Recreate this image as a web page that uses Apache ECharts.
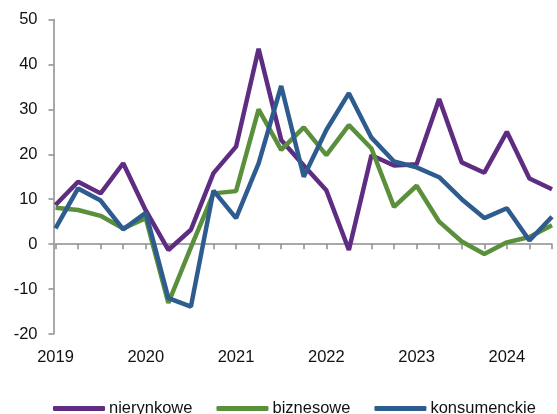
<!DOCTYPE html>
<html>
<head>
<meta charset="utf-8">
<script src="https://cdn.jsdelivr.net/npm/echarts@6/dist/echarts.min.js"></script>
<style>
html,body{margin:0;padding:0;background:#fff;}
#chart{width:557px;height:414px;}
</style>
</head>
<body>
<div id="chart"></div>
<script>
// Quarterly categories 2019Q1 .. 2024Q3
const categories = [
  '2019','2019 Q2','2019 Q3','2019 Q4',
  '2020','2020 Q2','2020 Q3','2020 Q4',
  '2021','2021 Q2','2021 Q3','2021 Q4',
  '2022','2022 Q2','2022 Q3','2022 Q4',
  '2023','2023 Q2','2023 Q3','2023 Q4',
  '2024','2024 Q2','2024 Q3'
];
const nierynkowe = [8.7, 13.9, 11.3, 18.0, 7.5, -1.3, 3.2, 15.8, 21.7, 43.5, 23.2, 17.5, 12.0, -1.3, 19.8, 17.5, 17.8, 32.3, 18.2, 15.9, 25.0, 14.6, 12.2];
const biznesowe = [8.1, 7.6, 6.3, 3.5, 5.8, -13.1, -0.7, 11.3, 11.8, 30.0, 21.0, 26.0, 19.8, 26.5, 21.3, 8.3, 13.0, 5.0, 0.6, -2.2, 0.4, 1.6, 4.2];
const konsumenckie = [3.5, 12.4, 9.7, 3.3, 7.0, -12.0, -13.9, 11.9, 5.8, 18.0, 35.2, 15.0, 25.4, 33.6, 23.7, 18.4, 17.1, 14.9, 10.0, 5.8, 8.0, 0.8, 6.1];
const yTicks = {min: -20, max: 50, interval: 10};

const FONT = '"Liberation Sans", Arial, sans-serif';
const AXIS = '#8c8c8c';
const chart = echarts.init(document.getElementById('chart'), null, {renderer: 'canvas'});
chart.setOption({
  animation: false,
  backgroundColor: '#fff',
  grid: {left: 55.5, right: 5, top: 19.5, bottom: 80, containLabel: false},
  legend: {
    left: 48, top: 395,
    itemWidth: 52, itemHeight: 5, itemGap: 24,
    icon: 'roundRect',
    textStyle: {fontFamily: FONT, fontSize: 16.5, color: '#111', padding: [0,0,0,-1]},
    data: ['nierynkowe', 'biznesowe', 'konsumenckie']
  },
  xAxis: [
    {
      type: 'category', data: categories, boundaryGap: false,
      axisLine: {onZero: true, lineStyle: {color: AXIS, width: 1.5}},
      axisTick: {show: true, interval: 0, length: 5, lineStyle: {color: AXIS, width: 1.5}},
      axisLabel: {show: false},
      splitLine: {show: false}
    },
    {
      type: 'category', data: categories, boundaryGap: false, position: 'bottom',
      axisLine: {show: false, onZero: false},
      axisTick: {show: false},
      axisLabel: {
        interval: 3, margin: 15,
        fontFamily: FONT, fontSize: 16.5, color: '#111',
        formatter: v => v.length === 4 ? v : ''
      },
      splitLine: {show: false}
    }
  ],
  yAxis: {
    type: 'value', min: yTicks.min, max: yTicks.max, interval: yTicks.interval,
    offset: 2,
    axisLine: {show: true, lineStyle: {color: AXIS, width: 1.5}},
    axisTick: {show: true, length: 5, lineStyle: {color: AXIS, width: 1.5}},
    axisLabel: {margin: 16, fontFamily: FONT, fontSize: 16.5, color: '#111'},
    splitLine: {show: false}
  },
  series: [
    {name: 'nierynkowe', type: 'line', data: nierynkowe, symbol: 'none', xAxisIndex: 0,
     lineStyle: {color: '#5e2d82', width: 4.5}, itemStyle: {color: '#5e2d82'}, z: 3},
    {name: 'biznesowe', type: 'line', data: biznesowe, symbol: 'none', xAxisIndex: 0,
     lineStyle: {color: '#5a8f3c', width: 4.5}, itemStyle: {color: '#5a8f3c'}, z: 4},
    {name: 'konsumenckie', type: 'line', data: konsumenckie, symbol: 'none', xAxisIndex: 0,
     lineStyle: {color: '#2e5c8e', width: 4.5}, itemStyle: {color: '#2e5c8e'}, z: 5}
  ]
});
</script>
</body>
</html>
